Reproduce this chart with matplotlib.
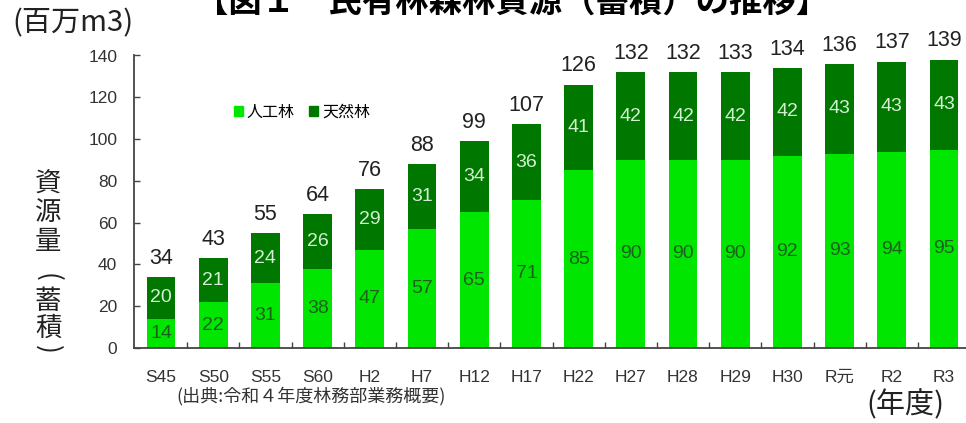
import matplotlib
matplotlib.use("Agg")
import matplotlib.pyplot as plt
from matplotlib.patches import Patch
import numpy as np

years = ["S45", "S50", "S55", "S60", "H2", "H7", "H12", "H17", "H22",
         "H27", "H28", "H29", "H30", "R元", "R2", "R3"]
planted = [14, 22, 31, 38, 47, 57, 65, 71, 85, 90, 90, 90, 92, 93, 94, 95]
natural = [20, 21, 24, 26, 29, 31, 34, 36, 41, 42, 42, 42, 42, 43, 43, 43]
totals = [34, 43, 55, 64, 76, 88, 99, 107, 126, 132, 132, 133, 134, 136, 137, 139]
yticks = [0, 20, 40, 60, 80, 100, 120, 140]

LIGHT = "#00e600"
DARK = "#007800"
JP = ["Noto Sans CJK JP", "DejaVu Sans"]
NUM = ["Liberation Sans"]
W, H = 966, 423

fig = plt.figure(figsize=(W / 100, H / 100), dpi=100)
ax = fig.add_axes([134 / W, 75 / H, (W - 134) / W, (348 - 55.5) / H])

x = np.arange(len(years))
bw = 0.55
ax.bar(x, planted, bw, color=LIGHT)
ax.bar(x, natural, bw, bottom=planted, color=DARK)

for i in range(len(years)):
    ax.text(x[i], planted[i] / 2, str(planted[i]), ha="center", va="center",
            fontsize=14, color="#1d601d", family=NUM)
    ax.text(x[i], planted[i] + natural[i] / 2, str(natural[i]), ha="center",
            va="center", fontsize=14, color="#d4f0d4", family=NUM)
    ax.annotate(str(totals[i]), (x[i], planted[i] + natural[i]),
                xytext=(0, 6), textcoords="offset points", ha="center",
                va="bottom", fontsize=15.5, color="#222222", family=NUM,
                annotation_clip=False)

ax.set_xlim(-27 / 52.2, (W - 161) / 52.2)
ax.set_ylim(0, 140)
ax.set_yticks(yticks)
ax.set_yticklabels([str(v) for v in yticks], family=NUM, fontsize=12.5,
                   color="#333333")
ax.set_xticks(x)
ax.set_xticklabels(years, family=NUM + ["Noto Sans CJK JP"], fontsize=12.5,
                   color="#333333")
ax.set_xticks(x[:-1] + 0.5, minor=True)
ax.tick_params(axis="x", which="major", length=0, pad=16)
ax.tick_params(axis="x", which="minor", direction="in", length=4,
               color="#444444", width=1)
ax.tick_params(axis="y", direction="in", length=4, color="#444444", width=1,
               pad=12)
for side in ("top", "right"):
    ax.spines[side].set_visible(False)
for side in ("left", "bottom"):
    ax.spines[side].set_color("#444444")
    ax.spines[side].set_linewidth(1.3)

handles = [Patch(color=LIGHT, label="人工林"), Patch(color=DARK, label="天然林")]
ax.legend(handles=handles, ncol=2, frameon=False, loc="center left",
          bbox_to_anchor=(234 / W, 1 - 112 / H),
          bbox_transform=fig.transFigure, prop={"family": JP, "size": 11.5},
          handlelength=0.55, handleheight=0.55, handletextpad=0.25,
          columnspacing=0.9, borderpad=0, borderaxespad=0)

fig.text(512 / W, 1 - 12 / H, "【図１　民有林森林資源（蓄積）の推移】",
         ha="center", va="baseline", fontsize=24, weight="bold", family=JP)
fig.text(12 / W, 1 - 23 / H, "(百万m3)", ha="left", va="center",
         fontsize=21, family=JP, color="#222222")
fig.text(905 / W, 1 - 405 / H, "(年度)", ha="center", va="center",
         fontsize=21, family=JP, color="#222222")
fig.text(311 / W, 1 - 396 / H, "(出典:令和４年度林務部業務概要)",
         ha="center", va="center", fontsize=13, family=JP, color="#333333")

# vertical axis title, one character per line; brackets turned sideways
ylabel_chars = [("資", 184, 0), ("源", 212, 0), ("量", 241, 0), ("(", 277, -90),
                ("蓄", 301, 0), ("積", 328, 0), (")", 349, -90)]
for ch, py, rot in ylabel_chars:
    fig.text(48 / W, 1 - py / H, ch, ha="center", va="center", rotation=rot,
             fontsize=19, family=JP, color="#222222")

fig.savefig("out.png", dpi=100)
plt.close(fig)
